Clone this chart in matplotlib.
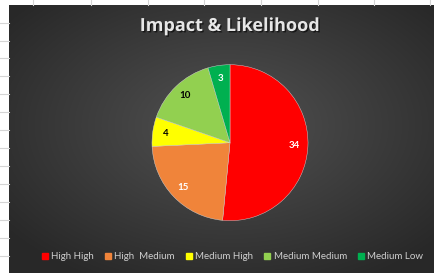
import numpy as np
import matplotlib
matplotlib.use("Agg")
import matplotlib.pyplot as plt
from matplotlib.lines import Line2D
import matplotlib.patheffects as pe

categories = ["High High", "High  Medium", "Medium High", "Medium Medium", "Medium Low"]
values = [34, 15, 4, 10, 3]
colors = ["#FF0000", "#F0843A", "#FFFF00", "#92D050", "#00B050"]
label_colors = ["white", "white", "black", "black", "white"]
title = "Impact & Likelihood"

W, H = 435, 273
fig = plt.figure(figsize=(W / 100, H / 100), dpi=100)
fig.patch.set_facecolor("white")

def fx(x): return x / W
def fy(y): return 1 - y / H

# spreadsheet grid lines
for y in [22.7, 40.7, 58.3, 76, 94, 112, 130, 148, 165.7, 183.7, 201.7, 219.7, 237.7, 255.7]:
    fig.add_artist(Line2D([0, fx(9)], [fy(y), fy(y)], color="#d4d4d4", lw=0.8))
for x in [33, 91, 148, 204, 261, 318, 374, 430]:
    fig.add_artist(Line2D([fx(x), fx(x)], [fy(0), fy(5)], color="#d4d4d4", lw=0.8))

# chart background with radial gradient
bg = fig.add_axes([fx(9), 0, (W - 9) / W, (H - 5) / H])
bg.set_axis_off()
nx, ny = 426, 268
xx, yy = np.meshgrid(np.linspace(-1, 1, nx), np.linspace(-1, 1, ny))
cx, cy = 0.03, -0.1
r = np.sqrt(((xx - cx) / 1.1) ** 2 + ((yy - cy) / 1.1) ** 2)
r = np.clip(r, 0, 1.2) / 1.2
inner = np.array([0x52, 0x52, 0x52]) / 255
outer = np.array([0x28, 0x28, 0x28]) / 255
img = inner[None, None, :] * (1 - r[..., None]) + outer[None, None, :] * r[..., None]
bg.imshow(img, aspect="auto", extent=[0, 1, 0, 1], origin="upper")
bg.set_xlim(0, 1)
bg.set_ylim(0, 1)

fam = ["Lato", "DejaVu Sans"]
tfam = ["Open Sans", "DejaVu Sans"]

fig.text(fx(229), fy(26), title, ha="center", va="center", fontsize=13,
         fontweight="bold", color="#e6e6e6", family=tfam,
         path_effects=[pe.withSimplePatchShadow(offset=(1, -1), shadow_rgbFace="black", alpha=0.6)])

# pie
cxp, cyp, rad = 230, 142.7, 78
ax = fig.add_axes([fx(cxp - rad), fy(cyp + rad), 2 * rad / W, 2 * rad / H])
ax.set_axis_off()
wedges, texts = ax.pie(values, colors=colors, startangle=90, counterclock=False,
                       radius=1, wedgeprops=dict(edgecolor="#d9d9d9", linewidth=0.3))
ax.set_xlim(-1, 1)
ax.set_ylim(-1, 1)
ax.set_aspect("equal")
total = sum(values)
ang = 90.0
for v, c in zip(values, label_colors):
    span = v / total * 360
    mid = np.deg2rad(ang - span / 2)
    ang -= span
    d = 0.83
    ax.text(d * np.cos(mid), d * np.sin(mid), str(v), ha="center", va="center",
            fontsize=7, fontweight="bold", color=c, family=fam)

handles = [Line2D([], [], marker="s", linestyle="none", markersize=4.5,
                  markerfacecolor=c, markeredgecolor=c) for c in colors]
leg = fig.legend(handles, categories, loc="center", bbox_to_anchor=(fx(232.5), fy(256.5)),
                 ncol=5, frameon=False, fontsize=7, handlelength=0.6, handletextpad=0.35,
                 columnspacing=1.15, borderaxespad=0)
for t in leg.get_texts():
    t.set_color("#cfcfcf")
    t.set_family(fam)

fig.savefig("out.png", dpi=100, facecolor="white")
